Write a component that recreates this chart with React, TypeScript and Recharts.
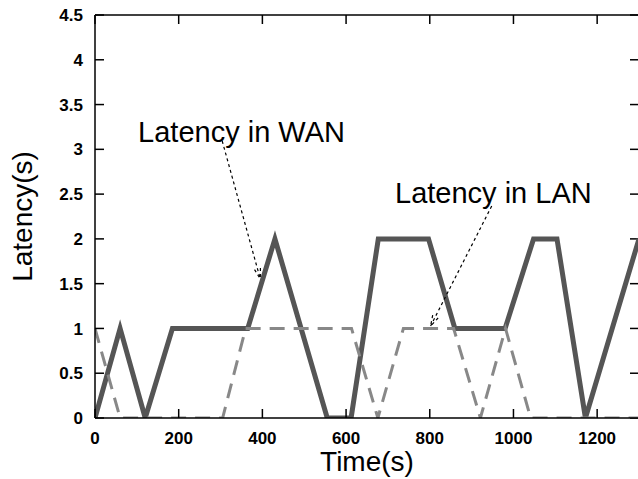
import React from 'react';
import { LineChart, Line, XAxis, YAxis, ReferenceLine, ReferenceDot } from 'recharts';

const wanTimes = [0, 60, 120, 185, 365, 430, 555, 612, 677, 797, 860, 980, 1048, 1104, 1172, 1300];
const wanValues = [0, 1, 0, 1, 1, 2, 0, 0, 2, 2, 1, 1, 2, 2, 0, 2];
const lanTimes = [0, 60, 305, 360, 613, 676, 737, 857, 921, 981, 1041, 1300];
const lanValues = [1, 0, 0, 1, 1, 0, 1, 1, 0, 1, 0, 0];

const xTicks = [0, 200, 400, 600, 800, 1000, 1200];
const yTicks = [0, 0.5, 1, 1.5, 2, 2.5, 3, 3.5, 4, 4.5];

const wanLabel = { text: 'Latency in WAN', t: 103, v: 3.082 };
const lanLabel = { text: 'Latency in LAN', t: 717, v: 2.397 };
const wanArrow = [{ x: 304, y: 3.093 }, { x: 395, y: 1.552 }];
const lanArrow = [{ x: 948, y: 2.367 }, { x: 802, y: 1.027 }];

const wanData = wanTimes.map((t, i) => ({ t, v: wanValues[i] }));
const lanData = lanTimes.map((t, i) => ({ t, v: lanValues[i] }));

const FONT = '"Liberation Sans", Arial, Helvetica, sans-serif';
const TM = 10;
const TICK_LEN = 9;

const BottomTick = (p: any) => {
  const { x, y, payload } = p;
  const axisY = y - TM;
  return (
    <g>
      <line x1={x} y1={axisY} x2={x} y2={axisY - TICK_LEN} stroke="#000" strokeWidth={1.5} />
      <text x={x} y={axisY + 25.5} textAnchor="middle" fontFamily={FONT} fontSize={17} fontWeight="bold" fill="#000">
        {payload.value}
      </text>
    </g>
  );
};

const LeftTick = (p: any) => {
  const { x, y, payload } = p;
  const axisX = x + TM;
  return (
    <g>
      <line x1={axisX} y1={y} x2={axisX + TICK_LEN} y2={y} stroke="#000" strokeWidth={1.5} />
      <text x={axisX - 12} y={y} dy="0.36em" textAnchor="end" fontFamily={FONT} fontSize={17} fontWeight="bold" fill="#000">
        {payload.value}
      </text>
    </g>
  );
};

const TopTickShape = (p: any) => {
  const { x1, y1, y2 } = p;
  if (typeof x1 !== 'number') return null;
  const top = Math.min(y1, y2);
  return <line x1={x1} y1={top} x2={x1} y2={top + TICK_LEN} stroke="#000" strokeWidth={1.5} />;
};

const RightTickShape = (p: any) => {
  const { x1, x2, y1 } = p;
  if (typeof y1 !== 'number') return null;
  const right = Math.max(x1, x2);
  return <line x1={right} y1={y1} x2={right - TICK_LEN} y2={y1} stroke="#000" strokeWidth={1.5} />;
};

const Arrow = (props: any) => {
  const { x1, y1, x2, y2 } = props;
  if ([x1, y1, x2, y2].some((n) => typeof n !== 'number' || isNaN(n))) return null;
  const ang = Math.atan2(y2 - y1, x2 - x1);
  const len = 11;
  const spread = 0.28;
  const ax1 = x2 - len * Math.cos(ang - spread);
  const ay1 = y2 - len * Math.sin(ang - spread);
  const ax2 = x2 - len * Math.cos(ang + spread);
  const ay2 = y2 - len * Math.sin(ang + spread);
  return (
    <g stroke="#000" strokeWidth={1.2} strokeDasharray="3 3" fill="none">
      <line x1={x1} y1={y1} x2={x2} y2={y2} />
      <line x1={ax1} y1={ay1} x2={x2} y2={y2} />
      <line x1={ax2} y1={ay2} x2={x2} y2={y2} />
    </g>
  );
};

const makeText = (text: string) => (props: any) => {
  const { cx, cy } = props;
  if (typeof cx !== 'number' || typeof cy !== 'number') return null;
  return (
    <text x={cx} y={cy} fontFamily={FONT} fontSize={29} fill="#000">
      {text}
    </text>
  );
};

const YTitle = (props: any) => {
  const vb = props.viewBox || { x: 0, y: 15, width: 95, height: 403 };
  const x = vb.x + 32;
  const y = vb.y + vb.height / 2;
  return (
    <text x={x} y={y} transform={`rotate(-90 ${x} ${y})`} textAnchor="middle" fontFamily={FONT} fontSize={28} fill="#000">
      Latency(s)
    </text>
  );
};

const XTitle = (props: any) => {
  const vb = props.viewBox || { x: 95, y: 418, width: 544, height: 61 };
  return (
    <text x={vb.x + vb.width / 2} y={vb.y + 53} textAnchor="middle" fontFamily={FONT} fontSize={28} fill="#000">
      Time(s)
    </text>
  );
};

export default function App() {
  return (
    <div style={{ position: 'absolute', left: 0, top: 0, width: 638, height: 479, overflow: 'hidden', background: '#fff' }}>
      <LineChart width={639} height={479} margin={{ top: 15, right: 0, bottom: 0, left: 0 }}>
        <XAxis
          xAxisId={0}
          dataKey="t"
          type="number"
          domain={[0, 1300]}
          ticks={xTicks}
          interval={0}
          height={61}
          tickSize={0}
          tickMargin={TM}
          tick={(p: any) => <BottomTick {...p} />}
          axisLine={{ stroke: '#000', strokeWidth: 1.5 }}
          tickLine={false}
          allowDataOverflow
          label={{ content: (p: any) => <XTitle {...p} /> }}
        />
        <YAxis
          yAxisId={0}
          type="number"
          domain={[0, 4.5]}
          ticks={yTicks}
          interval={0}
          width={95}
          tickSize={0}
          tickMargin={TM}
          tick={(p: any) => <LeftTick {...p} />}
          axisLine={{ stroke: '#000', strokeWidth: 1.5 }}
          tickLine={false}
          allowDataOverflow
          label={{ content: (p: any) => <YTitle {...p} /> }}
        />
        <ReferenceLine xAxisId={0} yAxisId={0} y={4.5} stroke="#000" strokeWidth={1.5} />
        {xTicks.map((t) => (
          <ReferenceLine key={`tx${t}`} xAxisId={0} yAxisId={0} x={t} shape={(p: any) => <TopTickShape {...p} />} />
        ))}
        {yTicks.map((v) => (
          <ReferenceLine key={`ry${v}`} xAxisId={0} yAxisId={0} y={v} shape={(p: any) => <RightTickShape {...p} />} />
        ))}
        <Line
          data={wanData}
          dataKey="v"
          xAxisId={0}
          yAxisId={0}
          type="linear"
          stroke="#555555"
          strokeWidth={5}
          dot={false}
          activeDot={false}
          isAnimationActive={false}
        />
        <Line
          data={lanData}
          dataKey="v"
          xAxisId={0}
          yAxisId={0}
          type="linear"
          stroke="#888888"
          strokeWidth={3}
          strokeDasharray="15 9"
          dot={false}
          activeDot={false}
          isAnimationActive={false}
        />
        <ReferenceLine xAxisId={0} yAxisId={0} segment={wanArrow} shape={(p: any) => <Arrow {...p} />} />
        <ReferenceLine xAxisId={0} yAxisId={0} segment={lanArrow} shape={(p: any) => <Arrow {...p} />} />
        <ReferenceDot xAxisId={0} yAxisId={0} x={wanLabel.t} y={wanLabel.v} r={0} shape={makeText(wanLabel.text)} />
        <ReferenceDot xAxisId={0} yAxisId={0} x={lanLabel.t} y={lanLabel.v} r={0} shape={makeText(lanLabel.text)} />
      </LineChart>
    </div>
  );
}
